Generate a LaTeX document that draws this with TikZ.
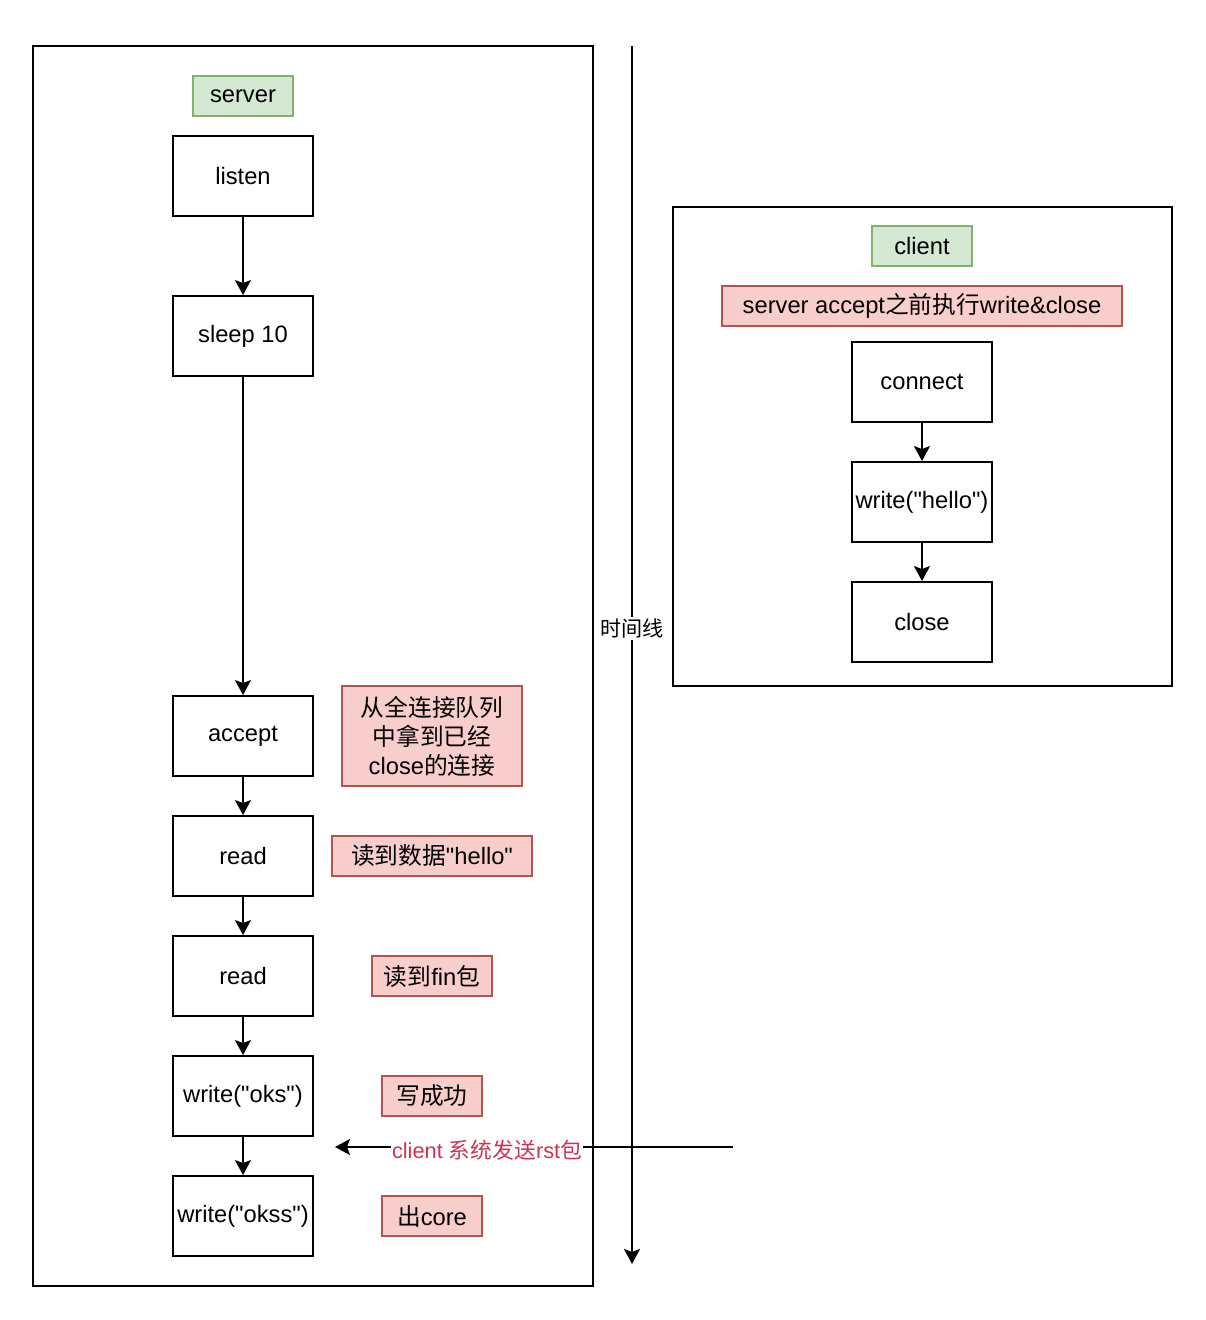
\documentclass[tikz,border=0pt]{standalone}
\usepackage{fontspec}
\setmainfont{Liberation Sans}
\newfontfamily\cjk{Noto Sans CJK SC}
\usepackage{xcolor}
\usetikzlibrary{arrows.meta,positioning}
\definecolor{tagfill}{HTML}{D5E8D4}
\definecolor{tagdraw}{HTML}{82B366}
\definecolor{notefill}{HTML}{F8CECC}
\definecolor{notedraw}{HTML}{B85450}
\definecolor{rstred}{HTML}{CC3355}
\newcommand{\dq}{\textquotedbl}
\tikzset{flow/.style={line width=1.1pt,-{Stealth[length=3mm,width=3.2mm,inset=0.6mm]}}}
\tikzstyle{proc} = [draw,line width=1.1pt,minimum width=2.8cm,minimum height=1.6cm,inner sep=0pt]
\tikzstyle{tag} = [draw=tagdraw,fill=tagfill,line width=0.8pt,minimum width=2cm,minimum height=0.8cm,inner sep=0pt]
\tikzstyle{note} = [draw=notedraw,fill=notefill,line width=0.8pt,minimum height=0.8cm,inner sep=0pt,align=center]

\begin{document}
\begin{tikzpicture}[
  x=0.02cm, y=-0.02cm,
  every node/.style={font=\fontsize{13.5}{16.5}\selectfont}
]
\useasboundingbox (0,0) rectangle (1206,1320);
% 两个框
\draw[line width=1.1pt] (33,46) rectangle (593,1286);
\draw[line width=1.1pt] (673,207) rectangle (1172,686);

% server 端
\node[tag] (srvtag) at (243,96) {server};
\node[proc] (listen) at (243,176) {listen};
\node[proc] (sleep) at (243,336) {sleep 10};
\node[proc] (accept) at (243,736) {accept};
\node[proc] (readA) at (243,856) {read};
\node[proc] (readB) at (243,976) {read};
\node[proc] (writeA) at (243,1096) {write(\dq oks\dq)};
\node[proc] (writeB) at (243,1216) {write(\dq okss\dq)};

\draw[flow] (listen) -- (sleep);
\draw[flow] (sleep) -- (accept);
\draw[flow] (accept) -- (readA);
\draw[flow] (readA) -- (readB);
\draw[flow] (readB) -- (writeA);
\draw[flow] (writeA) -- (writeB);

% 说明
\node[note,minimum width=3.6cm,minimum height=2cm] (noteaccept) at (432,736)
  {{\cjk 从全连接队列}\\{\cjk 中拿到已经}\\close{\cjk 的连接}};
\node[note,minimum width=4cm] (notehello) at (432,856) {{\cjk 读到数据}\dq hello\dq};
\node[note,minimum width=2.4cm] (notefin) at (432,976) {{\cjk 读到}fin{\cjk 包}};
\node[note,minimum width=2cm] (noteok) at (432,1096) {\cjk 写成功};
\node[note,minimum width=2cm] (notecore) at (432,1216) {{\cjk 出}core};

% client 端
\node[tag] (clitag) at (922,246) {client};
\node[note,minimum width=8cm] (noteclient) at (922,306) {server accept{\cjk 之前执行}write\&close};
\node[proc] (connect) at (922,382) {connect};
\node[proc] (writeC) at (922,502) {write(\dq hello\dq)};
\node[proc] (close) at (922,622) {close};

\draw[flow] (connect) -- (writeC);
\draw[flow] (writeC) -- (close);

% 时间线
\coordinate (ttop) at (632,46);
\coordinate (tbot) at (632,1264);
\draw[flow] (ttop) -- (tbot)
  node[pos=0.478,fill=white,inner sep=1pt,font=\fontsize{12}{14}\selectfont] {\cjk 时间线};

% rst
\coordinate (rstfrom) at (733,1147);
\coordinate (rstto) at (335,1147);
\draw[flow] (rstfrom) -- (rstto)
  node[pos=0.618,yshift=-2pt,fill=white,inner sep=0.5pt,text=rstred,font=\fontsize{12.4}{14}\selectfont]
  {client {\cjk 系统发送}rst{\cjk 包}};
\end{tikzpicture}
\end{document}
